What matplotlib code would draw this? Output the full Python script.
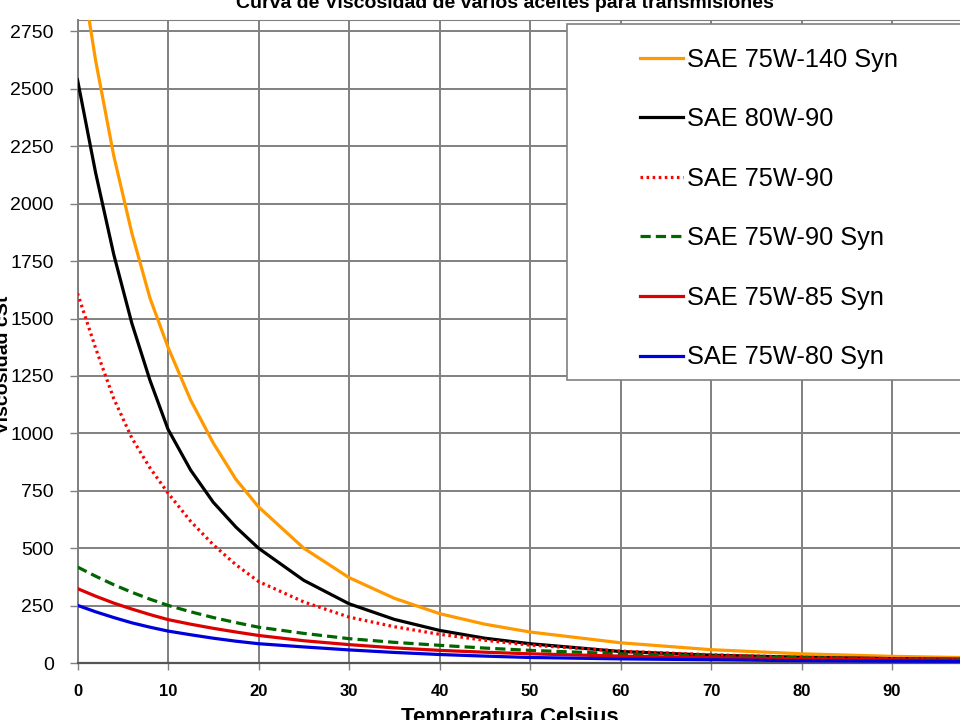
import matplotlib
matplotlib.use("Agg")
import matplotlib.pyplot as plt
from matplotlib.patches import Rectangle

plt.rcParams["font.family"] = ["Liberation Sans", "DejaVu Sans"]

# Temperatura (°C)
temperatura = [0, 2, 4, 6, 8, 10, 12.5, 15, 17.5, 20, 25, 30, 35, 40, 45, 50, 60, 70, 80, 90, 100]

# Viscosidad cSt
sae_75w140_syn = [3120, 2624, 2210, 1873, 1590, 1375, 1145, 958, 800, 680, 500, 372, 282, 215, 169, 135, 88, 58, 40, 29, 22]
sae_80w90 = [2540, 2135, 1780, 1480, 1232, 1018, 840, 700, 592, 500, 360, 258, 190, 142, 108, 84, 50, 34, 25, 19, 16]
sae_75w90 = [1610, 1371, 1152, 980, 850, 740, 617, 515, 428, 355, 266, 200, 158, 125, 99, 78, 52, 36, 25, 19, 16]
sae_75w90_syn = [418, 378, 341, 308, 278, 251, 223, 198, 176, 156, 129, 106, 90, 77, 65, 55, 40, 30, 23, 18, 15]
sae_75w85_syn = [324, 291, 261, 235, 211, 189, 169, 151, 135, 120, 97, 80, 66, 55, 47, 40, 30, 23, 18, 14, 12]
sae_75w80_syn = [251, 223, 198, 175, 156, 139, 123, 108, 95, 84, 70, 57, 46, 37, 30, 24, 18, 14, 10, 8, 7]

y_ticks = list(range(0, 2751, 250))
x_ticks = list(range(0, 91, 10))

fig = plt.figure(figsize=(9.6, 7.2), dpi=100)
# el gráfico original está recortado: los ejes salen por la derecha
ax = fig.add_axes([77.5 / 960, 1 - 663 / 720, 905 / 960, 643 / 720])

lw = 2.3
ax.plot(temperatura, sae_75w140_syn, color="#FF9900", lw=lw, label="SAE 75W-140 Syn", zorder=3)
ax.plot(temperatura, sae_80w90, color="black", lw=lw, label="SAE 80W-90", zorder=3)
ax.plot(temperatura, sae_75w90, color="#FF0000", lw=lw, linestyle=(0, (0.8, 1.1)),
        label="SAE 75W-90", zorder=3)
ax.plot(temperatura, sae_75w90_syn, color="#006600", lw=lw, linestyle=(0, (3.2, 1.6)),
        label="SAE 75W-90 Syn", zorder=3)
ax.plot(temperatura, sae_75w85_syn, color="#DD0000", lw=lw, label="SAE 75W-85 Syn", zorder=3)
ax.plot(temperatura, sae_75w80_syn, color="#0000DD", lw=lw, label="SAE 75W-80 Syn", zorder=3)

ax.set_xlim(0, 100)
ax.set_ylim(0, 2800)
ax.set_xticks(x_ticks)
ax.set_yticks(y_ticks)
ax.tick_params(axis="y", labelsize=14, length=6, width=1, color="#808080", pad=11)
ax.tick_params(axis="x", labelsize=12, length=5, width=1, color="#808080", pad=10)
for t in ax.get_xticklabels():
    t.set_fontweight("bold")

ax.grid(True, color="#808080", lw=1.4)
ax.set_axisbelow(True)
for s in ["top", "right"]:
    ax.spines[s].set_color("#808080")
ax.spines["left"].set_color("#808080")
ax.spines["left"].set_linewidth(1.4)
ax.spines["bottom"].set_color("#555555")
ax.spines["bottom"].set_linewidth(1.6)

# títulos (recortados en la imagen original)
fig.text(505 / 960, 1 - 8 / 720, "Curva de Viscosidad de varios aceites para transmisiones",
         ha="center", va="baseline", fontsize=14, fontweight="bold")
fig.text(510 / 960, 1 - 707 / 720, "Temperatura Celsius",
         ha="center", va="top", fontsize=16, fontweight="bold")
fig.text(8 / 960, 355 / 720, "Viscosidad cSt", rotation=90, rotation_mode="anchor",
         ha="center", va="baseline", fontsize=14, fontweight="bold")

# caja de la leyenda
fig.patches.append(Rectangle((567 / 960, 1 - 380 / 720), 0.45, 356 / 720,
                             transform=fig.transFigure, facecolor="white",
                             edgecolor="#808080", lw=1.2, zorder=5))
leg = fig.legend(loc="upper left", bbox_to_anchor=(640 / 960, 1 - 47.5 / 720),
                 frameon=False, fontsize=18.3, borderpad=0, borderaxespad=0,
                 handlelength=1.7, handletextpad=0.16, labelspacing=1.4)
leg.set_zorder(6)

fig.savefig("out.png", dpi=100)
